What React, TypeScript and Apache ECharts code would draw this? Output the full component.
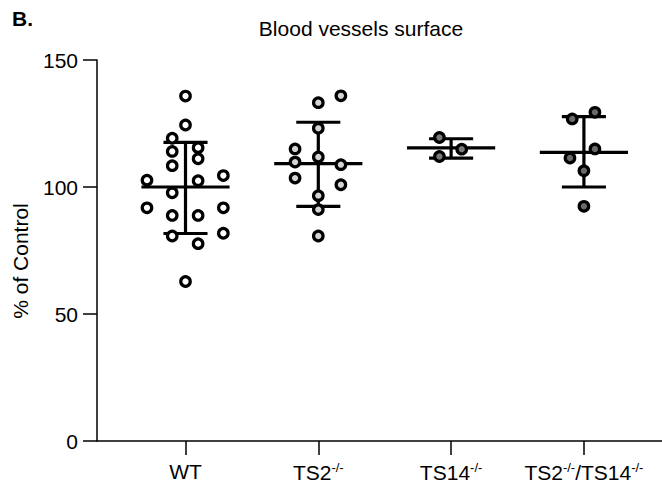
import React, { useEffect, useRef } from "react";
import * as echarts from "echarts";

const groupNames = ["WT", "TS2-/-", "TS14-/-", "TS2-/-/TS14-/-"];
const tickLabels = ["WT", "TS2{sup|-/-}", "TS14{sup|-/-}", "TS2{sup|-/-}/TS14{sup|-/-}"];
const groupPositions = [1, 2, 3, 4];

const wtValues = [135.8, 124.4, 119.2, 114.0, 115.5, 111.1, 108.4, 102.7, 102.5, 104.5, 97.7, 91.8, 88.8, 88.8, 91.8, 80.7, 77.7, 81.8, 62.8];
const wtJitter = [0, 0, -0.1, -0.1, 0.095, 0.095, -0.1, -0.29, 0.095, 0.285, -0.1, -0.29, -0.1, 0.095, 0.285, -0.1, 0.095, 0.285, 0];

const ts2Values = [133.2, 135.9, 123.1, 115.0, 111.8, 109.8, 108.8, 103.5, 100.9, 96.6, 91.1, 80.7];
const ts2Jitter = [0, 0.17, 0, -0.175, 0, -0.175, 0.17, -0.175, 0.17, 0, 0, 0];

const ts14Values = [119.5, 112.0, 114.9];
const ts14Jitter = [-0.088, -0.088, 0.08];

const dkoValues = [126.8, 129.4, 115.0, 111.4, 106.4, 92.4];
const dkoJitter = [-0.088, 0.083, 0.083, -0.105, 0, 0];

const groupMeans = [100.0, 109.2, 115.4, 113.6];
const groupSdLow = [81.7, 92.4, 111.4, 100.0];
const groupSdHigh = [117.6, 125.5, 119.0, 127.7];

const groupFills = ["#ffffff", "#d4d4d4", "#7a7a7a", "#6a6a6a"];

const yTicks = { min: 0, max: 150, interval: 50 };
const xRange = { min: 0.3336, max: 4.588 };

const FONT = "'Liberation Sans', Arial, sans-serif";

export default function App() {
  const ref = useRef<HTMLDivElement>(null);
  useEffect(() => {
    if (!ref.current) return;
    const chart = echarts.init(ref.current, undefined, { renderer: "svg" });
    const groupsData = [
      [wtValues, wtJitter],
      [ts2Values, ts2Jitter],
      [ts14Values, ts14Jitter],
      [dkoValues, dkoJitter],
    ];
    const scatterSeries = groupsData.map(([vals, jit], gi) => ({
      type: "scatter",
      name: groupNames[gi],
      z: 5,
      symbol: "circle",
      symbolSize: 9.5,
      itemStyle: { color: groupFills[gi], borderColor: "#000", borderWidth: 3.2, opacity: 1 },
      data: (vals as number[]).map((v, i) => [groupPositions[gi] + (jit as number[])[i], v]),
    }));
    const statsData = groupPositions.map((p, i) => [p, groupMeans[i], groupSdLow[i], groupSdHigh[i]]);
    const meanHalf = 0.332;
    const capHalf = 0.166;
    const option: any = {
      animation: false,
      grid: { left: 97, right: 0, top: 60, bottom: 42, containLabel: false },
      xAxis: {
        type: "value",
        min: xRange.min,
        max: xRange.max,
        splitLine: { show: false },
        axisLine: { show: true, onZero: false, lineStyle: { color: "#000", width: 1.5 } },
        axisTick: { show: true, customValues: groupPositions, length: 14, lineStyle: { color: "#000", width: 1.5 } },
        axisLabel: {
          show: true,
          customValues: groupPositions,
          margin: 20,
          color: "#000",
          fontSize: 21,
          fontFamily: FONT,
          formatter: (v: number) => tickLabels[Math.round(v) - 1] ?? "",
          rich: {
            sup: { fontSize: 13, fontFamily: FONT, color: "#000", verticalAlign: "top", padding: [0, 0, 10, 0] },
          },
        },
      },
      yAxis: {
        type: "value",
        min: yTicks.min,
        max: yTicks.max,
        interval: yTicks.interval,
        splitLine: { show: false },
        axisLine: { show: true, lineStyle: { color: "#000", width: 1.5 } },
        axisTick: { show: true, length: 14, lineStyle: { color: "#000", width: 1.5 } },
        axisLabel: { margin: 19, color: "#000", fontSize: 21, fontFamily: FONT },
      },
      graphic: [
        { type: "text", x: 12, y: 8, style: { text: "B.", fontSize: 21, fontWeight: "bold", fontFamily: FONT, fill: "#000" } },
        { type: "text", x: 361, y: 28, style: { text: "Blood vessels surface", fontSize: 21, fontFamily: FONT, fill: "#000", textAlign: "center", textVerticalAlign: "middle" } },
        { type: "text", x: 20, y: 261, rotation: Math.PI / 2, style: { text: "% of Control", fontSize: 21, fontFamily: FONT, fill: "#000", textAlign: "center", textVerticalAlign: "middle" } },
      ],
      series: [
        {
          type: "custom",
          z: 3,
          data: statsData,
          encode: { x: 0, y: [1, 2, 3] },
          renderItem: (params: any, api: any) => {
            const x = api.value(0);
            const m = api.value(1);
            const lo = api.value(2);
            const hi = api.value(3);
            const ml = api.coord([x - meanHalf, m]);
            const mr = api.coord([x + meanHalf, m]);
            const top = api.coord([x, hi]);
            const bot = api.coord([x, lo]);
            const ctl = api.coord([x - capHalf, hi]);
            const ctr = api.coord([x + capHalf, hi]);
            const cbl = api.coord([x - capHalf, lo]);
            const cbr = api.coord([x + capHalf, lo]);
            const st = { stroke: "#000", lineWidth: 3.2 };
            return {
              type: "group",
              children: [
                { type: "line", shape: { x1: ml[0], y1: ml[1], x2: mr[0], y2: mr[1] }, style: st },
                { type: "line", shape: { x1: top[0], y1: top[1], x2: bot[0], y2: bot[1] }, style: st },
                { type: "line", shape: { x1: ctl[0], y1: ctl[1], x2: ctr[0], y2: ctr[1] }, style: st },
                { type: "line", shape: { x1: cbl[0], y1: cbl[1], x2: cbr[0], y2: cbr[1] }, style: st },
              ],
            };
          },
        },
        ...scatterSeries,
      ],
    };
    chart.setOption(option);
    return () => chart.dispose();
  }, []);
  return <div ref={ref} style={{ position: "absolute", left: 0, top: 0, width: 662, height: 483 }} />;
}
